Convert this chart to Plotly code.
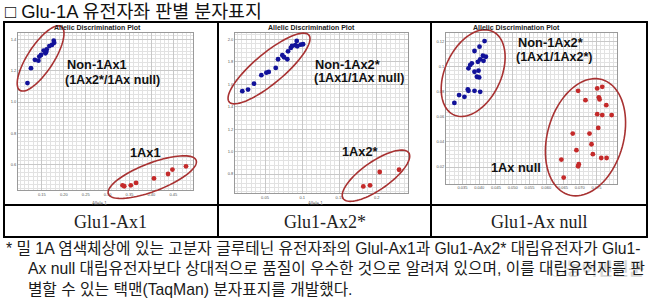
import numpy as np
import plotly.graph_objects as go

W, H = 653, 301

# ---------------- data ----------------
# Panel 1 : Glu1-Ax1
p1_xticks = [0.15, 0.20, 0.25, 0.30, 0.35, 0.40, 0.45]
p1_xtext = ["0.15", "0.20", "0.25", "0.30", "0.35", "0.40", "0.45"]
p1_yticks = [0.6, 0.8, 1.0, 1.2, 1.4]
p1_ytext = ["0.6", "0.8", "1.0", "1.2", "1.4"]
p1_non_x = [0.177, 0.178, 0.173, 0.167, 0.161, 0.160, 0.158, 0.154, 0.148, 0.144, 0.142, 0.134, 0.125, 0.117]
p1_non_y = [1.391, 1.378, 1.364, 1.357, 1.336, 1.321, 1.311, 1.328, 1.300, 1.290, 1.264, 1.269, 1.216, 1.121]
p1_pos_x = [0.334, 0.338, 0.353, 0.365, 0.406, 0.438, 0.448, 0.479]
p1_pos_y = [0.470, 0.464, 0.470, 0.485, 0.514, 0.542, 0.570, 0.591]

# Panel 2 : Glu1-Ax2*
p2_xticks = [0.05, 0.10, 0.15, 0.20]
p2_xtext = ["0.05", "0.1", "0.15", "0.2"]
p2_yticks = [0.8, 1.0, 1.2, 1.4, 1.6, 1.8, 2.0]
p2_ytext = ["0.8", "1.0", "1.2", "1.4", "1.6", "1.8", "2.0"]
p2_non_x = [0.0195, 0.0272, 0.0352, 0.0451, 0.0518, 0.0550, 0.0644, 0.0675, 0.0733, 0.0756,
            0.0800, 0.0809, 0.0846, 0.0863, 0.0907, 0.0926, 0.0934, 0.0980, 0.1011]
p2_non_y = [1.538, 1.552, 1.605, 1.680, 1.703, 1.709, 1.745, 1.822, 1.858, 1.840,
            1.822, 1.893, 1.923, 1.940, 1.947, 1.985, 1.938, 1.952, 1.956]
p2_pos_x = [0.182, 0.191, 0.204, 0.230]
p2_pos_y = [0.690, 0.699, 0.818, 0.838]

# Panel 3 : Glu1-Ax null
p3_xticks = [0.035, 0.040, 0.045, 0.050, 0.055, 0.060, 0.065, 0.070, 0.075]
p3_xtext = ["0.035", "0.040", "0.045", "0.050", "0.055", "0.060", "0.065", "0.070", "0.075"]
p3_yticks = [0.02, 0.04, 0.06, 0.08, 0.10, 0.12]
p3_ytext = ["0.02", "0.04", "0.06", "0.08", "0.1", "0.12"]
p3_non_x = [0.0416, 0.0401, 0.0386, 0.0411, 0.0420, 0.0403, 0.0413, 0.0378, 0.0373, 0.0396, 0.0368,
            0.0386, 0.0398, 0.0400, 0.0393, 0.0366, 0.0368, 0.0386, 0.0403, 0.0340, 0.0356, 0.0326]
p3_non_y = [0.1202, 0.1157, 0.1123, 0.1085, 0.1077, 0.1056, 0.1045, 0.1025, 0.1011, 0.1037, 0.0985,
            0.0958, 0.0966, 0.0913, 0.0918, 0.0817, 0.0806, 0.0806, 0.0798, 0.0772, 0.0758, 0.0710]
p3_pos_x = [0.0695, 0.0717, 0.0752, 0.0767, 0.0757, 0.0759, 0.0779, 0.0752, 0.0767, 0.0795, 0.0755,
            0.0679, 0.0729, 0.0735, 0.0690, 0.0739, 0.0764, 0.0780, 0.0645, 0.0697, 0.0695, 0.0652]
p3_pos_y = [0.0806, 0.0732, 0.0825, 0.0838, 0.0754, 0.0738, 0.0692, 0.0620, 0.0613, 0.0613, 0.0511,
            0.0466, 0.0466, 0.0381, 0.0334, 0.0302, 0.0272, 0.0272, 0.0259, 0.0222, 0.0206, 0.0116]

cell_labels = ["Glu1-Ax1", "Glu1-Ax2*", "Glu1-Ax null"]
group_labels = [
    ("Non-1Ax1", "(1Ax2*/1Ax null)", "1Ax1"),
    ("Non-1Ax2*", "(1Ax1/1Ax null)", "1Ax2*"),
    ("Non-1Ax2*", "(1Ax1/1Ax2*)", "1Ax null"),
]
title_text = "□ Glu-1A 유전자좌 판별 분자표지"
footnote = [
    "* 밀 1A 염색체상에 있는 고분자 글루테닌 유전자좌의 Glul-Ax1과 Glu1-Ax2* 대립유전자가 Glu1-",
    "Ax null 대립유전자보다 상대적으로 품질이 우수한 것으로 알려져 있으며, 이를 대립유전자를 판",
    "별할 수 있는 택맨(TaqMan) 분자표지를 개발했다.",
]

# ---------------- layout helpers ----------------
def P(px, py):
    return px / W, 1 - py / H

panels = [
    dict(box=(18, 33, 193, 190), xr=[0.0954, 0.495], yr=[0.44, 1.44],
         xt=p1_xticks, xtt=p1_xtext, yt=p1_yticks, ytt=p1_ytext, xm=0.01, ym=0.025,
         non=(p1_non_x, p1_non_y), pos=(p1_pos_x, p1_pos_y)),
    dict(box=(235, 33, 408, 193), xr=[0.0097, 0.242], yr=[0.631, 2.056],
         xt=p2_xticks, xtt=p2_xtext, yt=p2_yticks, ytt=p2_ytext, xm=0.00625, ym=0.04,
         non=(p2_non_x, p2_non_y), pos=(p2_pos_x, p2_pos_y)),
    dict(box=(446, 33, 617, 183.5), xr=[0.0301, 0.0811], yr=[0.0069, 0.1266],
         xt=p3_xticks, xtt=p3_xtext, yt=p3_yticks, ytt=p3_ytext, xm=0.00125, ym=0.02 / 6,
         non=(p3_non_x, p3_non_y), pos=(p3_pos_x, p3_pos_y)),
]

fig = go.Figure()
BLUE = "#12129a"
RED = "#c42a2a"
ELL = "#a83232"

for i, p in enumerate(panels):
    n = "" if i == 0 else str(i + 1)
    x0, y0, x1, y1 = p["box"]
    fig.add_trace(go.Scatter(x=p["non"][0], y=p["non"][1], mode="markers",
                             marker=dict(color=BLUE, size=4.8, line=dict(width=0)),
                             xaxis="x" + n, yaxis="y" + n, showlegend=False, hoverinfo="skip"))
    fig.add_trace(go.Scatter(x=p["pos"][0], y=p["pos"][1], mode="markers",
                             marker=dict(color=RED, size=4.8, line=dict(width=0)),
                             xaxis="x" + n, yaxis="y" + n, showlegend=False, hoverinfo="skip"))
    axcommon = dict(showgrid=True, gridcolor="#c8c8c8", gridwidth=1, zeroline=False,
                    showline=True, linecolor="#9a9a9a", linewidth=1, mirror=True,
                    ticks="", tickfont=dict(size=4, color="#555555", family="Liberation Sans"),
                    tickmode="array", fixedrange=True)
    fig.layout["xaxis" + n] = dict(axcommon, domain=[x0 / W, x1 / W], range=p["xr"],
                                   tickvals=p["xt"], ticktext=p["xtt"], anchor="y" + n,
                                   minor=dict(showgrid=True, gridcolor="#e2e2e2", tick0=p["xt"][0], dtick=p["xm"]))
    fig.layout["yaxis" + n] = dict(axcommon, domain=[1 - y1 / H, 1 - y0 / H], range=p["yr"],
                                   tickvals=p["yt"], ticktext=p["ytt"], anchor="x" + n,
                                   minor=dict(showgrid=True, gridcolor="#e2e2e2", tick0=p["yt"][0], dtick=p["ym"]))

def data_to_px(p, x, y):
    x0, y0, x1, y1 = p["box"]
    px = x0 + (x - p["xr"][0]) / (p["xr"][1] - p["xr"][0]) * (x1 - x0)
    py = y1 - (y - p["yr"][0]) / (p["yr"][1] - p["yr"][0]) * (y1 - y0)
    return px, py

def ellipse_shape(p, cx, cy, a, b, th):
    pcx, pcy = data_to_px(p, cx, cy)
    t = np.linspace(0, 2 * np.pi, 90)
    r = np.radians(th)
    px = pcx + a * np.cos(t) * np.cos(r) - b * np.sin(t) * np.sin(r)
    py = pcy - (a * np.cos(t) * np.sin(r) + b * np.sin(t) * np.cos(r))
    path = "M " + " L ".join(f"{X / W:.5f},{1 - Y / H:.5f}" for X, Y in zip(px, py)) + " Z"
    return dict(type="path", path=path, xref="paper", yref="paper",
                line=dict(color=ELL, width=1.6), layer="above")

# highlight ellipses (center in data units, semi-axes in px, angle deg)
ells = [
    (0, 0.147, 1.278, 38, 13, 57), (0, 0.402, 0.522, 47, 14, 21),
    (1, 0.0554, 1.740, 52, 15, 40), (1, 0.199, 0.785, 40, 14, 35),
    (2, 0.0382, 0.0947, 46, 28, 65), (2, 0.0717, 0.0437, 60, 38, 74),
]
shapes = [ellipse_shape(panels[k], cx, cy, a, b, th) for k, cx, cy, a, b, th in ells]

# table lines
TL, TR, TT, TM, TB = 4, 647, 22, 205, 237
VX = [TL, 218, 431, TR]
for yy in [TT, TM, TB]:
    shapes.append(dict(type="line", xref="paper", yref="paper", x0=TL / W - 0.0015, x1=TR / W + 0.0015,
                       y0=1 - yy / H, y1=1 - yy / H, line=dict(color="black", width=2)))
for xx in VX:
    shapes.append(dict(type="line", xref="paper", yref="paper", x0=xx / W, x1=xx / W,
                       y0=1 - TT / H, y1=1 - TB / H, line=dict(color="black", width=2)))

ann = []
def add_text(txt, px, py, size, family, color="black", xanchor="left", bold=False, opacity=1,
             yanchor="middle"):
    X, Y = P(px, py)
    ann.append(dict(text=("<b>" + txt + "</b>") if bold else txt, x=X, y=Y, xref="paper", yref="paper",
                    xanchor=xanchor, yanchor=yanchor, showarrow=False, opacity=opacity, align="left",
                    font=dict(size=size, family=family, color=color)))

KFONT = "Liberation Sans, Noto Sans CJK KR"
add_text(title_text, 3, 11.5, 18.4, KFONT, "#111111")

# plot titles & axis names
for cx in [97, 311, 516]:
    add_text("Allelic Discrimination Plot", cx, 28, 7, "Liberation Sans", "#222222", "center", True)
for cx in [100, 315]:
    add_text("Allele 1", cx, 203, 4.5, "Liberation Sans", "#666666", "center")

lab_pos = [((65, 64), (63, 80), (128, 152)),
           ((313, 64), (312, 78), (340, 151)),
           ((516, 43), (514, 57), (489, 167))]
for (l1, l2, l3), (a1, a2, a3) in zip(group_labels, lab_pos):
    add_text(l1, a1[0], a1[1], 12.8, "Liberation Sans", "#111111", bold=True)
    add_text(l2, a2[0], a2[1], 12.5, "Liberation Sans", "#111111", bold=True)
    add_text(l3, a3[0], a3[1], 12.8, "Liberation Sans", "#111111", bold=True)

for lab, cx in zip(cell_labels, [111, 325, 539]):
    add_text(lab, cx, 222, 18, "Liberation Serif", "#222222", "center")

add_text("ⓒ농어민신문", 596, 269, 17, KFONT, "#bdbdbd", "center", bold=True, opacity=0.6)

indent = "\u00a0" * 5
foot_text = footnote[0] + "<br>" + indent + footnote[1] + "<br>" + indent + footnote[2]
add_text(foot_text, 4, 268.5, 15.75, KFONT, "#1a1a1a")

fig.update_layout(width=W, height=H, margin=dict(l=0, r=0, t=0, b=0, pad=0),
                  paper_bgcolor="white", plot_bgcolor="white", showlegend=False,
                  shapes=shapes, annotations=ann)

fig.write_html("out.html")
